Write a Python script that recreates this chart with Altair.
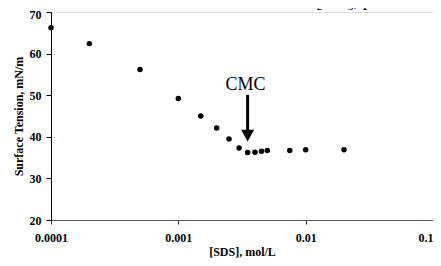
import altair as alt
import pandas as pd

# Data
sds_conc = [0.0001, 0.0002, 0.0005, 0.001, 0.0015, 0.002, 0.0025, 0.003,
            0.0035, 0.004, 0.0045, 0.005, 0.0075, 0.01, 0.02]
surface_tension = [66.2, 62.4, 56.2, 49.2, 45.0, 42.1, 39.5, 37.3,
                   36.2, 36.3, 36.5, 36.7, 36.7, 36.9, 36.9]

x_ticks = [0.0001, 0.001, 0.01, 0.1]
y_ticks = [20, 30, 40, 50, 60, 70]

cmc_label = ["CMC"]
cmc_x = [0.0035]
cmc_label_y = [51.2]
arrow_top = [50.1]
arrow_bottom = [41.0]
arrow_head_y = [40.3]

title_text = ["Surface Tension Profile of SDS in 0.01 M Na\u2082CO\u2083, pH 9 solution"]

FONT = "Liberation Serif"

df = pd.DataFrame({"sds": sds_conc, "st": surface_tension})
cmc_df = pd.DataFrame({"label": cmc_label, "x": cmc_x, "ly": cmc_label_y,
                       "top": arrow_top, "bottom": arrow_bottom, "hy": arrow_head_y})
title_df = pd.DataFrame({"t": title_text})

xscale = alt.Scale(type="log", domain=[0.0001, 0.1], nice=False)
yscale = alt.Scale(domain=[20, 70], nice=False, zero=False)

points = alt.Chart(df).mark_circle(size=30, color="black", opacity=1).encode(
    x=alt.X("sds:Q", scale=xscale, title="[SDS], mol/L",
            axis=alt.Axis(values=x_ticks, format=".4~f", grid=False, labelFlush=False,
                          labelAlign={"condition": {"test": "datum.value >= 0.1", "value": "right"},
                                      "value": "center"},
                          domainColor="#555555", tickColor="#333333", tickSize=4,
                          labelFont=FONT, labelFontSize=12, labelFontWeight="bold",
                          labelColor="black", labelPadding=8,
                          titleFont=FONT, titleFontSize=12, titleFontWeight="bold",
                          titleColor="black", titleBaseline="middle", titleY=31)),
    y=alt.Y("st:Q", scale=yscale, title="Surface Tension, mN/m",
            axis=alt.Axis(values=y_ticks, grid=False, labelFlush=False,
                          labelOffset={"condition": {"test": "datum.value >= 70", "value": 2},
                                       "value": 0},
                          domainColor="black", tickColor="black", tickSize=5,
                          labelFont=FONT, labelFontSize=12, labelFontWeight="bold",
                          labelColor="black", labelPadding=5,
                          titleFont=FONT, titleFontSize=12, titleFontWeight="bold",
                          titleColor="black", titleBaseline="middle", titleX=-33,
                          titleY=104)),
)

arrow = alt.Chart(cmc_df).mark_rule(color="black", strokeWidth=3).encode(
    x=alt.X("x:Q", scale=xscale),
    y=alt.Y("top:Q", scale=yscale),
    y2="bottom:Q",
)

head = alt.Chart(cmc_df).mark_point(
    shape="M-1,-0.9L1,-0.9L0,0.9Z", size=169, filled=True, color="black", opacity=1
).encode(
    x=alt.X("x:Q", scale=xscale),
    y=alt.Y("hy:Q", scale=yscale),
)

cmc_text = alt.Chart(cmc_df).mark_text(
    font=FONT, fontSize=18, color="black", baseline="alphabetic", align="center", dx=-2
).encode(
    x=alt.X("x:Q", scale=xscale),
    y=alt.Y("ly:Q", scale=yscale),
    text="label:N",
)

title = alt.Chart(title_df).mark_text(
    font=FONT, fontSize=18, color="black", baseline="alphabetic", align="center"
).encode(
    x=alt.value(174),
    y=alt.value(-6),
    text="t:N",
)

chart = alt.layer(points, arrow, head, cmc_text, title).properties(
    width=382, height=208,
    autosize=alt.AutoSizeParams(type="none"),
    padding={"left": 43, "top": 4, "right": 0, "bottom": 38},
).configure_view(stroke="#999999", strokeWidth=1).configure(background="white")

chart.save("out.html", embed_options={"renderer": "svg", "actions": False})
